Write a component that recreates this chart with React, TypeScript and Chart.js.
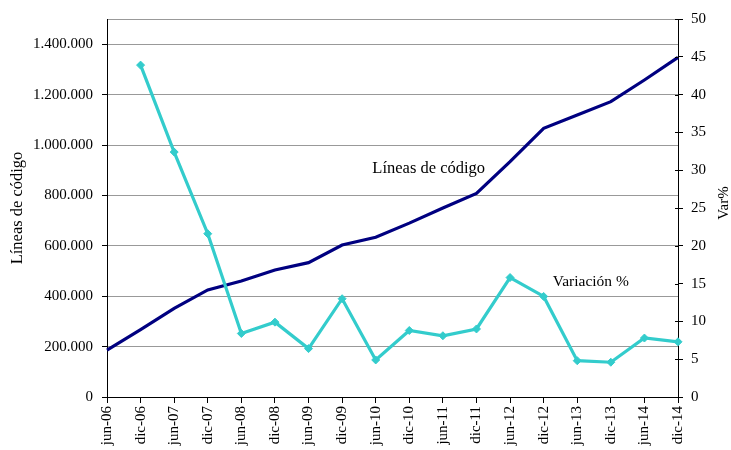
import React, { useEffect, useRef } from "react";
import { Chart, registerables } from "chart.js";

Chart.register(...registerables);

const categories = [
  "jun-06", "dic-06", "jun-07", "dic-07", "jun-08", "dic-08", "jun-09", "dic-09", "jun-10",
  "dic-10", "jun-11", "dic-11", "jun-12", "dic-12", "jun-13", "dic-13", "jun-14", "dic-14",
];

const lineasDeCodigo = [
  186000, 267000, 352000, 425000, 460000, 504000, 533000, 603000, 634000,
  690000, 750000, 808000, 934000, 1066000, 1119000, 1172000, 1258000, 1348000,
];

const variacion = [
  null, 43.9, 32.4, 21.6, 8.4, 9.9, 6.4, 13.0, 4.9,
  8.8, 8.1, 9.0, 15.8, 13.3, 4.8, 4.6, 7.8, 7.3,
];

const leftTickValues = [0, 200000, 400000, 600000, 800000, 1000000, 1200000, 1400000, 1500000];
const leftTickLabelled = [0, 200000, 400000, 600000, 800000, 1000000, 1200000, 1400000];

const leftAxisTitle = "Líneas de código";
const rightAxisTitle = "Var%";

const annotationTexts = ["Líneas de código", "Variación %"];
const annotationIndex = [7.9, 13.27];
const annotationValue = [905000, 15.2];
const annotationAxis = ["y", "y1"];
const annotationSize = [16.5, 15.5];

const FONT = "'Liberation Serif', 'Times New Roman', serif";

const fmt = (v: number) => String(v).replace(/\B(?=(\d{3})+(?!\d))/g, ".");

const extrasPlugin = {
  id: "extras",
  afterDraw(chart: any) {
    const ctx = chart.ctx;
    const area = chart.chartArea;
    const x = chart.scales.x;
    const y1 = chart.scales.y1;
    ctx.save();
    // inner tick marks on right axis
    ctx.strokeStyle = "#000";
    ctx.lineWidth = 1;
    y1.ticks.forEach((t: any) => {
      const py = Math.round(y1.getPixelForValue(t.value)) + 0.5;
      ctx.beginPath();
      ctx.moveTo(area.right - 3, py);
      ctx.lineTo(area.right, py);
      ctx.stroke();
    });
    ctx.fillStyle = "#000";
    // annotations
    ctx.textAlign = "left";
    ctx.textBaseline = "middle";
    annotationTexts.forEach((txt, i) => {
      const sc = chart.scales[annotationAxis[i]];
      ctx.font = `${annotationSize[i]}px ${FONT}`;
      ctx.fillText(txt, x.getPixelForValue(annotationIndex[i]), sc.getPixelForValue(annotationValue[i]));
    });
    // axis titles
    const midY = (area.top + area.bottom) / 2;
    ctx.textAlign = "center";
    ctx.save();
    ctx.font = `16.5px ${FONT}`;
    ctx.translate(18, midY);
    ctx.rotate(-Math.PI / 2);
    ctx.fillText(leftAxisTitle, 0, 0);
    ctx.restore();
    ctx.save();
    ctx.font = `15px ${FONT}`;
    ctx.translate(724, midY - 5);
    ctx.rotate(-Math.PI / 2);
    ctx.fillText(rightAxisTitle, 0, 0);
    ctx.restore();
    ctx.restore();
  },
};

export default function App() {
  const ref = useRef<HTMLCanvasElement>(null);
  useEffect(() => {
    if (!ref.current) return;
    const chart = new Chart(ref.current, {
      type: "line",
      data: {
        labels: categories,
        datasets: [
          {
            label: "Líneas de código",
            data: lineasDeCodigo,
            borderColor: "#000080",
            backgroundColor: "#000080",
            borderWidth: 3.2,
            pointRadius: 0,
            tension: 0,
            yAxisID: "y",
            order: 1,
          },
          {
            label: "Variación %",
            data: variacion,
            borderColor: "#33CCCC",
            backgroundColor: "#33CCCC",
            borderWidth: 3.2,
            pointStyle: "rectRot",
            pointRadius: 4,
            pointBorderWidth: 1,
            tension: 0,
            yAxisID: "y1",
            order: 0,
          },
        ],
      },
      options: {
        responsive: false,
        animation: false,
        events: [],
        layout: { padding: { top: 19, left: 0, right: 0, bottom: 0 } },
        plugins: { legend: { display: false }, tooltip: { enabled: false } },
        scales: {
          x: {
            type: "category",
            offset: false,
            grid: { display: true, drawOnChartArea: false, drawTicks: true, tickLength: 6, tickColor: "#000" },
            border: { display: true, color: "#000", width: 1 },
            ticks: {
              autoSkip: false,
              maxRotation: 90,
              minRotation: 90,
              padding: 3,
              color: "#000",
              font: { family: FONT, size: 15 },
            },
            afterFit: (s: any) => { s.height = 53; },
          },
          y: {
            position: "left",
            min: 0,
            max: 1500000,
            afterBuildTicks: (s: any) => { s.ticks = leftTickValues.map((v) => ({ value: v })); },
            grid: {
              color: "#999999",
              lineWidth: 1,
              tickLength: 5,
              tickColor: (c: any) => (leftTickLabelled.includes(c.tick?.value) ? "#000" : "rgba(0,0,0,0)"),
            },
            border: { display: true, color: "#000", width: 1 },
            ticks: {
              padding: 9,
              color: "#000",
              font: { family: FONT, size: 15 },
              callback: (v: any) => (leftTickLabelled.includes(v) ? fmt(v) : ""),
            },
            afterFit: (s: any) => { s.width = 107; },
          },
          y1: {
            position: "right",
            min: 0,
            max: 50,
            ticks: { stepSize: 5, padding: 8, color: "#000", font: { family: FONT, size: 15 } },
            grid: { drawOnChartArea: false, tickLength: 5, tickColor: "#000" },
            border: { display: true, color: "#000", width: 1 },
            afterFit: (s: any) => { s.width = 53; },
          },
        },
      },
      plugins: [extrasPlugin],
    } as any);
    return () => chart.destroy();
  }, []);
  return (
    <div style={{ position: "absolute", left: 0, top: 0, width: 731, height: 450, background: "#fff" }}>
      <canvas ref={ref} width={731} height={450} />
    </div>
  );
}
